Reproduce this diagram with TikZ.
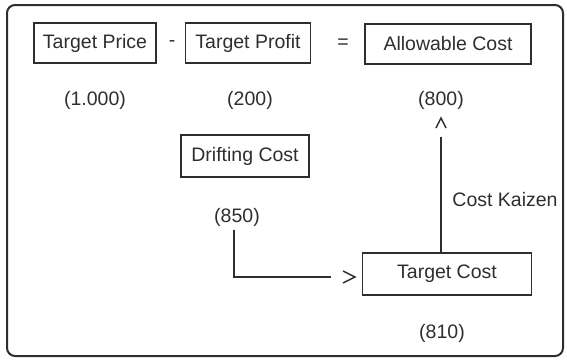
\documentclass[tikz,border=0pt]{standalone}
\usepackage{fontspec}
\setmainfont{Liberation Sans}
\definecolor{ink}{HTML}{2E2E2E}
\begin{document}
\begin{tikzpicture}[x=1pt,y=-1pt,
  every node/.style={font=\fontsize{19.5}{21}\selectfont, text=ink},
  costbox/.style={draw=ink, line width=1.3pt, inner sep=0pt, minimum height=40pt},
  flow/.style={draw=ink, line width=1.3pt},
  chevron/.style={draw=ink, line width=1.4pt, line join=miter}]
  \useasboundingbox (0,0) rectangle (567,362);
  % outer frame
  \draw[ink, line width=2pt, rounded corners=8pt] (7,5) rectangle (563,356);

  % equation row
  \node[costbox, minimum width=122pt] (tp)  at (95,43)  {Target Price};
  \node (minus) at (172,44) {-};
  \node[costbox, minimum width=125pt] (tpr) at (248,43) {Target Profit};
  \node (eq) at (343,44) {=};
  \node[costbox, minimum width=166pt] (ac)  at (448,44) {Allowable Cost};

  % amounts
  \node (v1000) at (95,100)  {(1.000)};
  \node (v200)  at (250,100) {(200)};
  \node (v800)  at (441,100) {(800)};

  % drifting and target cost
  \node[costbox, minimum width=128pt, minimum height=42pt] (dc) at (245,156) {Drifting Cost};
  \node (v850) at (237,217) {(850)};
  \node[costbox, minimum width=169pt, minimum height=42pt] (tc) at (447,274) {Target Cost};
  \node (v810) at (442,333) {(810)};
  \node (kz) at (505,200) {Cost Kaizen};

  % connector ends, with the open heads set a little apart
  \coordinate (hend) at (331,277);
  \coordinate (vend) at (441,137);

  % Drifting Cost amount into Target Cost
  \draw[flow] ([xshift=-3pt]v850.south) |- (hend);
  \draw[chevron] ([shift={(12,-6)}]hend) -- ([shift={(24,0)}]hend) -- ([shift={(12,6)}]hend);
  % Cost Kaizen: Target Cost up to Allowable Cost
  \draw[flow] (tc.north -| vend) -- (vend);
  \draw[chevron] ([shift={(-5,-9)}]vend) -- ([shift={(0,-19)}]vend) -- ([shift={(5,-9)}]vend);
\end{tikzpicture}
\end{document}
